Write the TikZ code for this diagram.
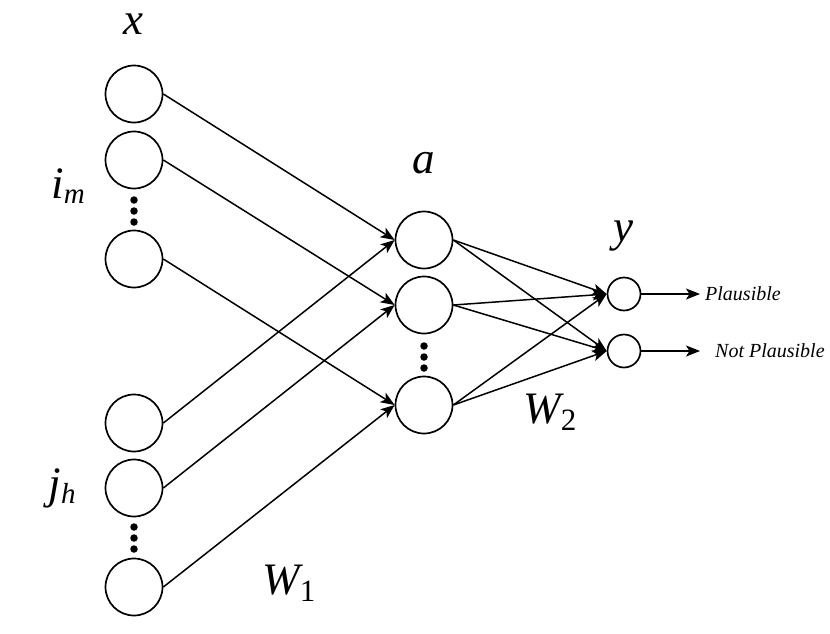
\documentclass[tikz,border=0pt]{standalone}
\usepackage{fontspec}
\setmainfont{Liberation Serif}
\usetikzlibrary{arrows.meta}
\newcommand{\bigfs}{\fontsize{45}{50}\selectfont\itshape}
\newcommand{\subfs}{\fontsize{29}{32}\selectfont\itshape}
\newcommand{\subup}{\fontsize{31}{34}\selectfont\upshape}
\begin{document}
\begin{tikzpicture}[x=1pt,y=-1pt,
  neuron/.style={circle,draw,line width=1.7pt,minimum size=57pt,inner sep=0pt},
  outn/.style={circle,draw,line width=1.7pt,minimum size=33pt,inner sep=0pt},
  conn/.style={line width=1.5pt,-{Stealth[length=14pt,width=11pt,inset=3.5pt]}},
  lbl/.style={inner sep=0pt,font=\bigfs},
  dotc/.style={circle,fill=black,minimum size=7.5pt,inner sep=0pt},
  outtxt/.style={inner sep=0pt,anchor=west,font=\fontsize{20}{22}\selectfont\itshape}]
\useasboundingbox (0,0) rectangle (830,633);
% input layer
\node[neuron] (i1) at (134,94) {};
\node[neuron] (i2) at (134,160) {};
\node[neuron] (i3) at (134,259) {};
\node[neuron] (j1) at (134,423) {};
\node[neuron] (j2) at (134,488) {};
\node[neuron] (j3) at (134,587) {};
\node[dotc] (d1a) at (134,200) {};
\node[dotc] (d1b) at (134,211) {};
\node[dotc] (d1c) at (134,222) {};
\node[dotc] (d2a) at (134,527) {};
\node[dotc] (d2b) at (134,538) {};
\node[dotc] (d2c) at (134,549) {};
% hidden layer
\node[neuron] (h1) at (424,240) {};
\node[neuron] (h2) at (424,305) {};
\node[neuron] (h3) at (424,405) {};
\node[dotc] (d3a) at (424,346) {};
\node[dotc] (d3b) at (424,357) {};
\node[dotc] (d3c) at (424,368) {};
% output layer
\node[outn] (o1) at (624,294) {};
\node[outn] (o2) at (624,351) {};
% labels
\node[lbl] (lx) at (133,24) {x};
\node[lbl] (lim) at (68,186) {i\raisebox{-0.12em}{\subfs m}};
\node[lbl] (ljh) at (62,488) {j\raisebox{-0.12em}{\subfs h}};
\node[lbl] (la) at (424,163) {a};
\node[lbl] (ly) at (623,236) {y};
\node[lbl] (lw1) at (289,583) {W\raisebox{-0.15em}{\subup 1}};
\node[lbl] (lw2) at (550,412) {W\raisebox{-0.15em}{\subup 2}};
\node[outtxt] (p1) at (705,294) {Plausible};
\node[outtxt] (p2) at (715,351) {Not Plausible};
\coordinate (e1) at (700,294);
\coordinate (e2) at (700,351);
% connections input -> hidden
\draw[conn] (i1.east) -- (h1.west);
\draw[conn] (i2.east) -- (h2.west);
\draw[conn] (i3.east) -- (h3.west);
\draw[conn] (j1.east) -- (h1.west);
\draw[conn] (j2.east) -- (h2.west);
\draw[conn] (j3.east) -- (h3.west);
% hidden -> output
\foreach \h in {h1,h2,h3}{
  \draw[conn] (\h.east) -- (o1.west);
  \draw[conn] (\h.east) -- (o2.west);
}
\draw[conn] (o1.east) -- (e1);
\draw[conn] (o2.east) -- (e2);
\end{tikzpicture}
\end{document}
